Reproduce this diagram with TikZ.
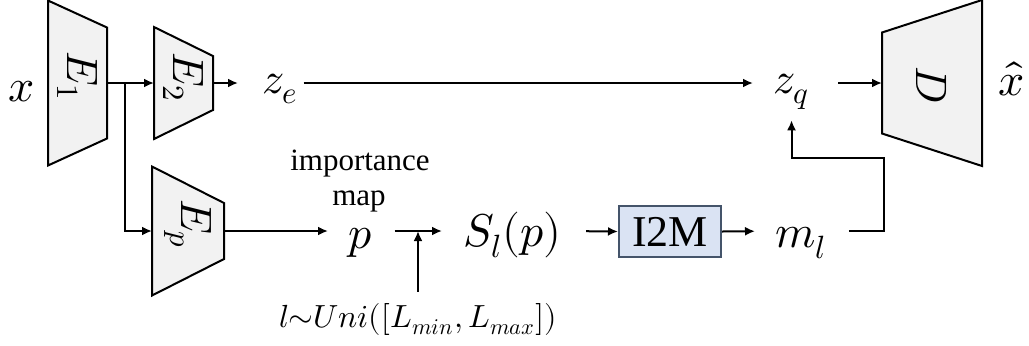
\documentclass[tikz,border=0pt]{standalone}
\usepackage{fontspec}
\usepackage{unicode-math}
\setmainfont{Liberation Serif}
\setmathfont{Latin Modern Math}
\usetikzlibrary{arrows.meta}

\definecolor{blockfill}{HTML}{F2F2F2}
\definecolor{imfill}{HTML}{DAE3F3}
\definecolor{imline}{HTML}{44546A}

% trapezoid block: name, left x, right x, mid y, left half height, right half height, label, label y
\newcommand{\trapblock}[8]{
  \draw[block] (#2,#4-#5) -- (#3,#4-#6) -- (#3,#4+#6) -- (#2,#4+#5) -- cycle;
  \coordinate (#1-in) at (#2,#4);
  \coordinate (#1-out) at (#3,#4);
  \node[blocklabel] (#1) at ({(#2+#3)/2},#8) {$#7$};
}

\begin{document}
\begin{tikzpicture}[x=0.5pt, y=-0.5pt,
    block/.style={draw=black, line width=1pt, fill=blockfill},
    blocklabel/.style={rotate=-90, inner sep=0pt, font=\fontsize{22}{26}\selectfont},
    flow/.style={line width=1pt, -{Latex[length=5pt,width=4.5pt]}},
    bigmath/.style={inner sep=0pt, anchor=base, font=\fontsize{23}{27}\selectfont},
    topvar/.style={inner sep=0pt, anchor=base west, font=\fontsize{22}{26}\selectfont},
    botvar/.style={inner sep=0pt, anchor=base west, font=\fontsize{23}{27}\selectfont},
    rangevar/.style={inner sep=0pt, anchor=base, font=\fontsize{16}{19}\selectfont},
    note/.style={inner sep=0pt, anchor=base, font=\fontsize{15.5}{18}\selectfont},
    i2mbox/.style={draw=imline, line width=1pt, fill=imfill, minimum width=51pt,
      minimum height=25.5pt, inner sep=0pt, font=\fontsize{22}{26}\selectfont}]
    \useasboundingbox (0,0) rectangle (1029,345);

    % encoders and decoder
    \trapblock{e1}{48}{107}{83}{82.5}{55.5}{E_1}{76}
    \trapblock{e2}{154}{213}{83}{56}{27}{E_2}{77}
    \trapblock{ep}{152}{224}{231}{64.5}{28}{E_p}{224}
    \trapblock{dec}{882}{982}{83}{50.5}{83}{D}{85}

    % top row
    \node[bigmath] (x) at (22,101) {$x$};
    \node[topvar] (ze) at (262,93) {$z_e$};
    \node[topvar] (zq) at (773,93) {$z_q$};
    \node[bigmath] (xhat) at (1012,95) {$\hat{x}$};

    % bottom row
    \node[note] (imp) at (360,170) {importance};
    \node[note] (map) at (359,205) {map};
    \node[botvar] (p) at (348,248) {$p$};
    \node[botvar] (sp) at (463,246) {$S_l(p)$};
    \node[i2mbox] (i2m) at (670,231.5) {I2M};
    \node[botvar] (ml) at (775,247) {$m_l$};
    \node[rangevar] (lr) at (418,327) {$l\mathord{\sim}Uni([L_{min},L_{max}])$};

    \coordinate (split) at (125,83);
    \coordinate (fb) at (884,158);

    % arrows
    \draw[flow] (e1-out) -- (e2-in);
    \draw[flow] (split) |- (ep-in);
    \draw[flow, shorten >=12pt] (e2-out) -- (ze.west |- e2-out);
    \draw[flow, shorten <=2.5pt, shorten >=10pt] (ze.east |- e2-out) -- (zq.west |- e2-out);
    \draw[flow, shorten <=14pt] (zq.east |- dec-in) -- (dec-in);
    \draw[flow, shorten >=10pt] (ep-out) -- (p.west |- ep-out);
    \draw[flow, shorten <=11pt, shorten >=10.5pt] (p.east |- ep-out) -- (sp.west |- ep-out);
    \draw[flow, shorten <=5.5pt] (lr.north) -- (lr.north |- ep-out);
    \draw[flow, shorten <=12pt] (sp.east |- ep-out) -- (i2m.west);
    \draw[flow, shorten >=10pt] (i2m.east) -- (ml.west |- ep-out);
    \draw[flow, shorten <=11pt, shorten >=5pt] (ml.east |- ep-out) -| (fb) -| (zq.south);
\end{tikzpicture}
\end{document}
